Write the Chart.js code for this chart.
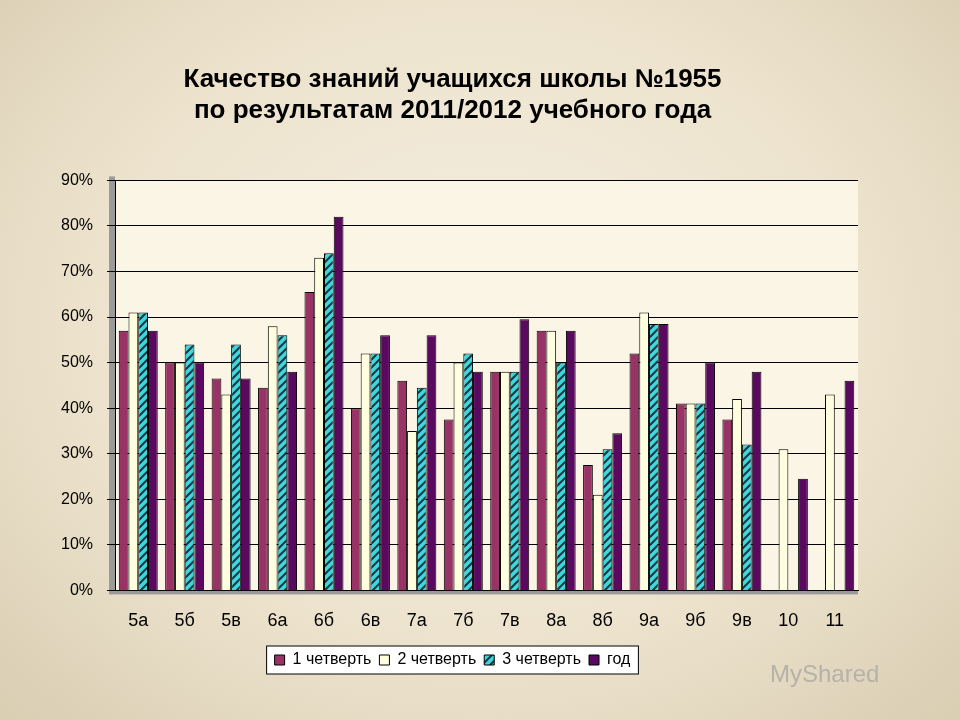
<!DOCTYPE html>
<html>
<head>
<meta charset="utf-8">
<script src="https://cdn.jsdelivr.net/npm/chart.js@4/dist/chart.umd.min.js"></script>
<style>
  html, body { margin: 0; padding: 0; }
  body {
    width: 960px; height: 720px; overflow: hidden;
    background: radial-gradient(ellipse at 50% 45%, #f6f0e2 0%, #ece2cc 60%, #d9cdb2 100%);
  }
  #wrap { position: absolute; left: 47px; top: 52px; width: 815px; height: 626px; }
  .logo { position: absolute; left: 770px; top: 660px; font: 24px "Liberation Sans", Arial; color: #b7b2a8; }
</style>
</head>
<body>
<div id="wrap"><canvas id="c"></canvas></div>
<div class="logo">MyShared</div>
<script>
const classes = ['5а', '5б', '5в', '6а', '6б', '6в', '7а', '7б', '7в', '8а', '8б', '9а', '9б', '9в', '10', '11'];
const q1 = [57, 50, 46.5, 44.5, 65.5, 40, 46, 37.5, 48, 57, 27.5, 52, 41, 37.5, 0, 0];
const q2 = [61, 50, 43, 58, 73, 52, 35, 50, 48, 57, 21, 61, 41, 42, 31, 43];
const q3 = [61, 54, 54, 56, 74, 52, 44.5, 52, 48, 50, 31, 58.5, 41, 32, 0, 0];
const year = [57, 50, 46.5, 48, 82, 56, 56, 48, 59.5, 57, 34.5, 58.5, 50, 48, 24.5, 46];
const yTicks = [0, 10, 20, 30, 40, 50, 60, 70, 80, 90];

function stripes() {
    const p = document.createElement('canvas');
    p.width = 8; p.height = 8;
    const g = p.getContext('2d');
    g.fillStyle = '#3fd6e0';
    g.fillRect(0, 0, 8, 8);
    g.strokeStyle = '#0f3a40';
    g.lineWidth = 2;
    g.beginPath();
    g.moveTo(0, 8); g.lineTo(8, 0);
    g.moveTo(-4, 4); g.lineTo(4, -4);
    g.moveTo(4, 12); g.lineTo(12, 4);
    g.stroke();
    return g.createPattern(p, 'repeat');
}

const plotBg = {
    id: 'plotBg',
    beforeDraw(chart) {
        const a = chart.chartArea, ctx = chart.ctx;
        ctx.save();
        ctx.fillStyle = '#fbf5e6';
        ctx.fillRect(a.left, a.top, a.right - a.left, a.bottom - a.top);
        ctx.fillStyle = '#9a9a9a';
        ctx.fillRect(a.left - 6, a.top - 4, 6, a.bottom - a.top + 4);
        ctx.fillRect(a.left - 6, a.bottom, a.right - a.left + 6, 4);
        // рамка вокруг элементов легенды
        const boxes = chart.legend.legendHitBoxes || [];
        if (boxes.length) {
            const x0 = boxes[0].left - 8;
            const last = boxes[boxes.length - 1];
            const x1 = last.left + last.width + 8;
            const y0 = boxes[0].top - 6, h = boxes[0].height + 12;
            ctx.fillStyle = '#fff';
            ctx.strokeStyle = '#000';
            ctx.lineWidth = 1;
            ctx.fillRect(x0, y0, x1 - x0, h);
            ctx.strokeRect(x0, y0, x1 - x0, h);
        }
        ctx.restore();
    }
};

function ds(label, data, color) {
    return { label: label, data: data, backgroundColor: color, borderColor: '#000', borderWidth: 1,
             categoryPercentage: 0.84, barPercentage: 1 };
}

new Chart(document.getElementById('c'), {
    type: 'bar',
    data: {
        labels: classes,
        datasets: [
            ds('1 четверть', q1, '#993366'),
            ds('2 четверть', q2, '#ffffe0'),
            ds('3 четверть', q3, stripes()),
            ds('год', year, '#5a0a5e')
        ]
    },
    plugins: [plotBg],
    options: {
        responsive: true,
        maintainAspectRatio: false,
        animation: false,
        layout: { padding: { left: 0, right: 4, top: 0, bottom: 0 } },
        plugins: {
            title: {
                display: true,
                text: ['Качество знаний учащихся школы №1955', 'по результатам 2011/2012 учебного года'],
                color: '#000', font: { family: 'Liberation Sans', size: 26, weight: 'bold' },
                padding: { top: 12, bottom: 54 }, lineHeight: 1.4
            },
            legend: {
                position: 'bottom',
                labels: { color: '#000', font: { family: 'Liberation Sans', size: 16 }, boxWidth: 10, boxHeight: 10, padding: 8 }
            },
            tooltip: { enabled: false }
        },
        scales: {
            x: {
                grid: { display: false },
                border: { color: '#000' },
                ticks: { color: '#000', font: { family: 'Liberation Sans', size: 18 }, padding: 12 }
            },
            y: {
                min: 0, max: 90,
                afterBuildTicks(axis) { axis.ticks = yTicks.map(v => ({ value: v })); },
                grid: { color: '#000', lineWidth: 1 },
                border: { color: '#000' },
                ticks: { color: '#000', font: { family: 'Liberation Sans', size: 16 }, padding: 14,
                         callback: v => v + '%' }
            }
        }
    }
});
</script>
</body>
</html>
